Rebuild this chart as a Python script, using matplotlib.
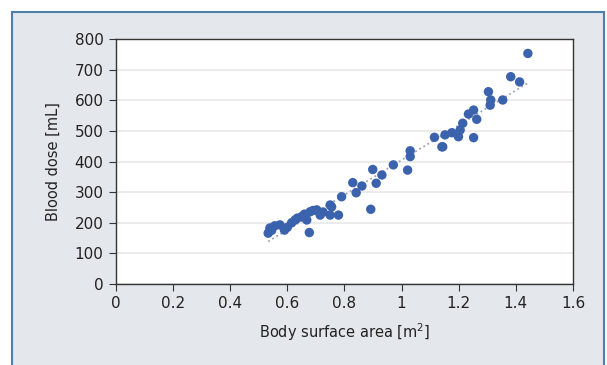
import numpy as np
import matplotlib.pyplot as plt
from matplotlib.patches import Rectangle
from matplotlib.ticker import FormatStrFormatter

# Body surface area [m2] and blood dose [mL]
bsa = [0.533, 0.539, 0.545, 0.556, 0.574, 0.59, 0.60, 0.615, 0.627, 0.635,
       0.65, 0.66, 0.668, 0.677, 0.68, 0.69, 0.703, 0.715, 0.725, 0.75,
       0.75, 0.755, 0.779, 0.79, 0.829, 0.841, 0.861, 0.892, 0.899, 0.911,
       0.931, 0.971, 1.021, 1.03, 1.03, 1.115, 1.141, 1.144, 1.152, 1.176,
       1.199, 1.205, 1.214, 1.234, 1.252, 1.252, 1.263, 1.304, 1.31, 1.312,
       1.354, 1.382, 1.413, 1.442]
dose = [166, 183, 175, 190, 193, 176, 185, 200, 209, 215,
        220, 228, 209, 168, 236, 240, 242, 225, 235, 258,
        225, 252, 225, 285, 331, 298, 320, 244, 374, 329,
        356, 389, 372, 435, 416, 479, 448, 448, 487, 494,
        481, 503, 525, 555, 568, 478, 538, 628, 584, 601,
        601, 677, 660, 753]

xticks = [0, 0.2, 0.4, 0.6, 0.8, 1, 1.2, 1.4, 1.6]
yticks = [0, 100, 200, 300, 400, 500, 600, 700, 800]

plt.rcParams['font.family'] = ['DejaVu Sans']

fig = plt.figure(figsize=(6.07, 3.65), dpi=100, facecolor='white')

# grey panel with blue frame behind the chart
fig.add_artist(Rectangle((12 / 607, -0.05), (604 - 12) / 607, 1.05 - 12 / 365,
                         transform=fig.transFigure, facecolor='#e4e7ec',
                         edgecolor='#4f80aa', linewidth=1.5, zorder=-5))

ax = fig.add_axes([0.191, 0.222, 0.753, 0.671])
ax.set_zorder(2)
ax.set_facecolor('white')

# linear trend line
k, b = np.polyfit(bsa, dose, 1)
tx = np.array([min(bsa), max(bsa)])
ax.plot(tx, k * tx + b, linestyle=':', color='#9aa4b8', linewidth=1.3, zorder=2)

ax.scatter(bsa, dose, s=46, color='#3b62ad', edgecolors='none', zorder=3)

ax.set_xlim(0, 1.6)
ax.set_ylim(0, 800)
ax.set_xticks(xticks)
ax.set_yticks(yticks)
ax.xaxis.set_major_formatter(FormatStrFormatter('%g'))
ax.grid(axis='y', color='#e8e8e8', linewidth=1.2, zorder=0)
ax.set_axisbelow(True)

for s in ax.spines.values():
    s.set_color('#333333')
    s.set_linewidth(1)
ax.tick_params(direction='out', length=5, color='#333333', labelsize=11,
               labelcolor='#222222', pad=4)

ax.set_xlabel('Body surface area [m$^2$]', fontsize=10.5, color='#222222', labelpad=7)
ax.set_ylabel('Blood dose [mL]', fontsize=10.5, color='#222222', labelpad=10)

plt.savefig('out.png', dpi=100, facecolor=fig.get_facecolor())
